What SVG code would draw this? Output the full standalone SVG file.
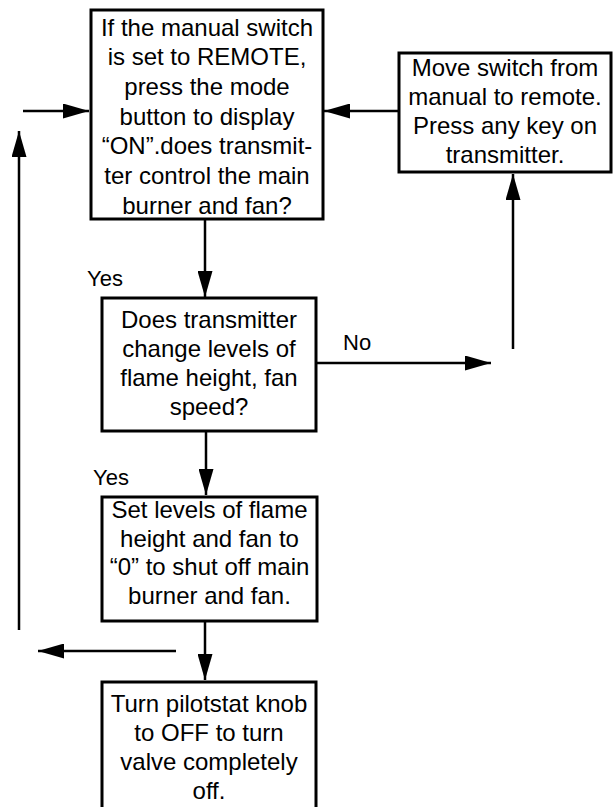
<svg xmlns="http://www.w3.org/2000/svg" width="616" height="807" viewBox="0 0 616 807">
<defs>
<marker id="ah" viewBox="0 0 26 15" markerWidth="26" markerHeight="15" refX="26" refY="7.5" orient="auto" markerUnits="userSpaceOnUse">
<path d="M0,0 L26,7.5 L0,15 Z" fill="#000"/>
</marker>
<style>
.box{fill:#fff;stroke:#000;stroke-width:3}
.t{font-family:"Liberation Sans",Arial,sans-serif;font-size:24px;fill:#000;text-anchor:middle}
.lbl{font-family:"Liberation Sans",Arial,sans-serif;font-size:22px;fill:#000}
.c{fill:none;stroke:#000;stroke-width:2.5;marker-end:url(#ah)}
</style>
</defs>
<rect width="616" height="807" fill="#fff"/>
<g id="connectors">
<line class="c" x1="205" y1="219" x2="205" y2="297"/>
<line class="c" x1="206" y1="431" x2="206" y2="495"/>
<line class="c" x1="205" y1="621" x2="205" y2="680"/>
<line class="c" x1="316" y1="363" x2="491" y2="363"/>
<line class="c" x1="513" y1="349" x2="513" y2="174"/>
<line class="c" x1="398" y1="111" x2="324" y2="111"/>
<line class="c" x1="23" y1="111" x2="89" y2="111"/>
<line class="c" x1="19" y1="630" x2="19" y2="131"/>
<line class="c" x1="176" y1="651" x2="38" y2="651"/>
<text class="lbl" x="87" y="286">Yes</text>
<text class="lbl" x="343" y="350">No</text>
<text class="lbl" x="93" y="485">Yes</text>
</g>
<g id="n1">
<rect class="box" x="91" y="10" width="232" height="209"/>
<text class="t" x="207"><tspan x="207" y="35.5">If the manual switch</tspan><tspan x="207" y="65.2">is set to REMOTE,</tspan><tspan x="207" y="94.9">press the mode</tspan><tspan x="207" y="124.6">button to display</tspan><tspan x="207" y="154.3">“ON”.does transmit-</tspan><tspan x="207" y="184">ter control the main</tspan><tspan x="207" y="213.7">burner and fan?</tspan></text>
</g>
<g id="n2">
<rect class="box" x="399" y="53" width="212" height="119"/>
<text class="t" x="505"><tspan x="505" y="76">Move switch from</tspan><tspan x="505" y="105">manual to remote.</tspan><tspan x="505" y="134">Press any key on</tspan><tspan x="505" y="163">transmitter.</tspan></text>
</g>
<g id="n3">
<rect class="box" x="102" y="298" width="214" height="133"/>
<text class="t" x="209"><tspan x="209" y="328">Does transmitter</tspan><tspan x="209" y="357">change levels of</tspan><tspan x="209" y="386">flame height, fan</tspan><tspan x="209" y="415">speed?</tspan></text>
</g>
<g id="n4">
<rect class="box" x="102" y="497" width="215" height="124"/>
<text class="t" x="209.5"><tspan x="209.5" y="518">Set levels of flame</tspan><tspan x="209.5" y="546.5">height and fan to</tspan><tspan x="209.5" y="575">“0” to shut off main</tspan><tspan x="209.5" y="603.5">burner and fan.</tspan></text>
</g>
<g id="n5">
<rect class="box" x="102" y="682" width="214" height="130"/>
<text class="t" x="209"><tspan x="209" y="712">Turn pilotstat knob</tspan><tspan x="209" y="741">to OFF to turn</tspan><tspan x="209" y="770">valve completely</tspan><tspan x="209" y="799">off.</tspan></text>
</g>
</svg>
